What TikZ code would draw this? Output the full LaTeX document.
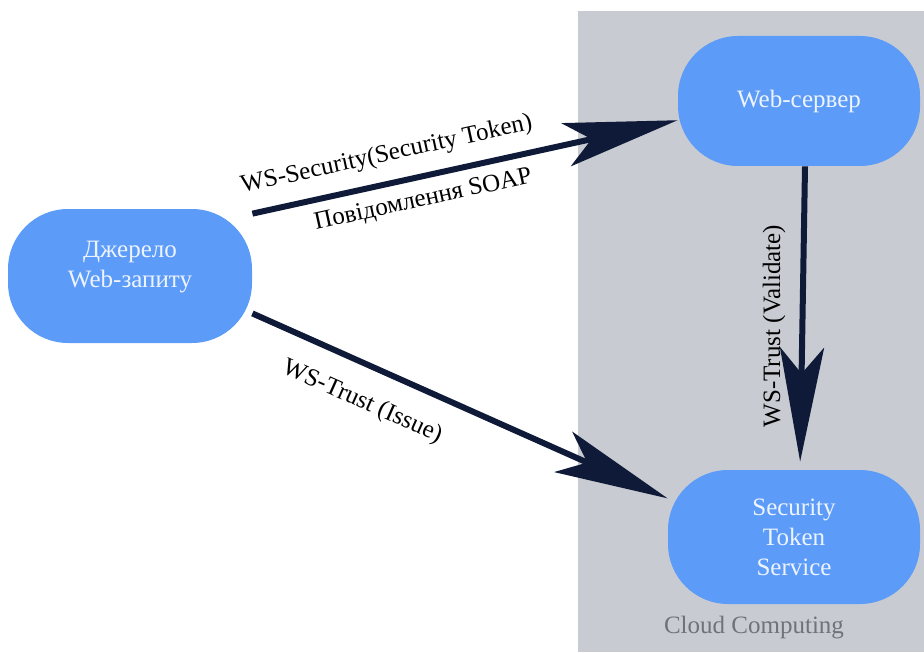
\documentclass[tikz,border=0pt]{standalone}
\usepackage{fontspec}
\setmainfont{Liberation Serif}
\usepackage{tikz}
\usetikzlibrary{arrows.meta,calc,positioning}
\definecolor{nodeblue}{HTML}{5C9CF8}
\definecolor{cloudgray}{HTML}{C8CBD1}
\definecolor{arrownavy}{HTML}{0E1A38}
\definecolor{labelgray}{HTML}{6E737B}
\definecolor{nodetext}{HTML}{EEF4FF}

\begin{document}
\begin{tikzpicture}[x=0.5pt,y=-0.5pt,
  pill/.style={fill=nodeblue,draw=none,rounded corners=30pt,align=center,
    text=nodetext,font=\fontsize{12.5}{15}\selectfont},
  msg/.style={draw=arrownavy,line width=3pt,
    -{Stealth[length=57pt,width=22pt,inset=13pt]}},
  lbl/.style={font=\fontsize{12.5}{14}\selectfont,inner sep=1pt}]
\useasboundingbox (0,0) rectangle (924,652);
\fill[cloudgray] (578,11) rectangle (924,652);
\node[text=labelgray,font=\fontsize{12.5}{15}\selectfont] (cloud) at (754,628) {Cloud Computing};
% nodes
\node[pill,minimum width=122pt,minimum height=67pt,text depth=12pt] (src) at (130,276) {Джерело\\Web-запиту};
\node[pill,minimum width=121pt,minimum height=65pt] (web) at (799,101) {Web-сервер};
\node[pill,minimum width=126pt,minimum height=67pt] (sts) at (794,537) {Security\\Token\\Service};
% messages
\draw[msg] (src.27) -- (web.189)
  node[lbl,pos=0.33,sloped,above=6pt] {WS-Security(Security Token)}
  node[lbl,pos=0.39,sloped,below=4pt] {Повідомлення SOAP};
\draw[msg] (src.-17) -- (sts.163)
  node[lbl,pos=0.3,sloped,below=10pt] {WS-Trust (Issue)};
\draw[msg,shorten >=4pt] ([xshift=3pt]web.south) -- ([xshift=3pt]sts.north)
  node[lbl,midway,rotate=90,anchor=south,inner sep=7pt,xshift=-4pt] {WS-Trust (Validate)};
\end{tikzpicture}
\end{document}
